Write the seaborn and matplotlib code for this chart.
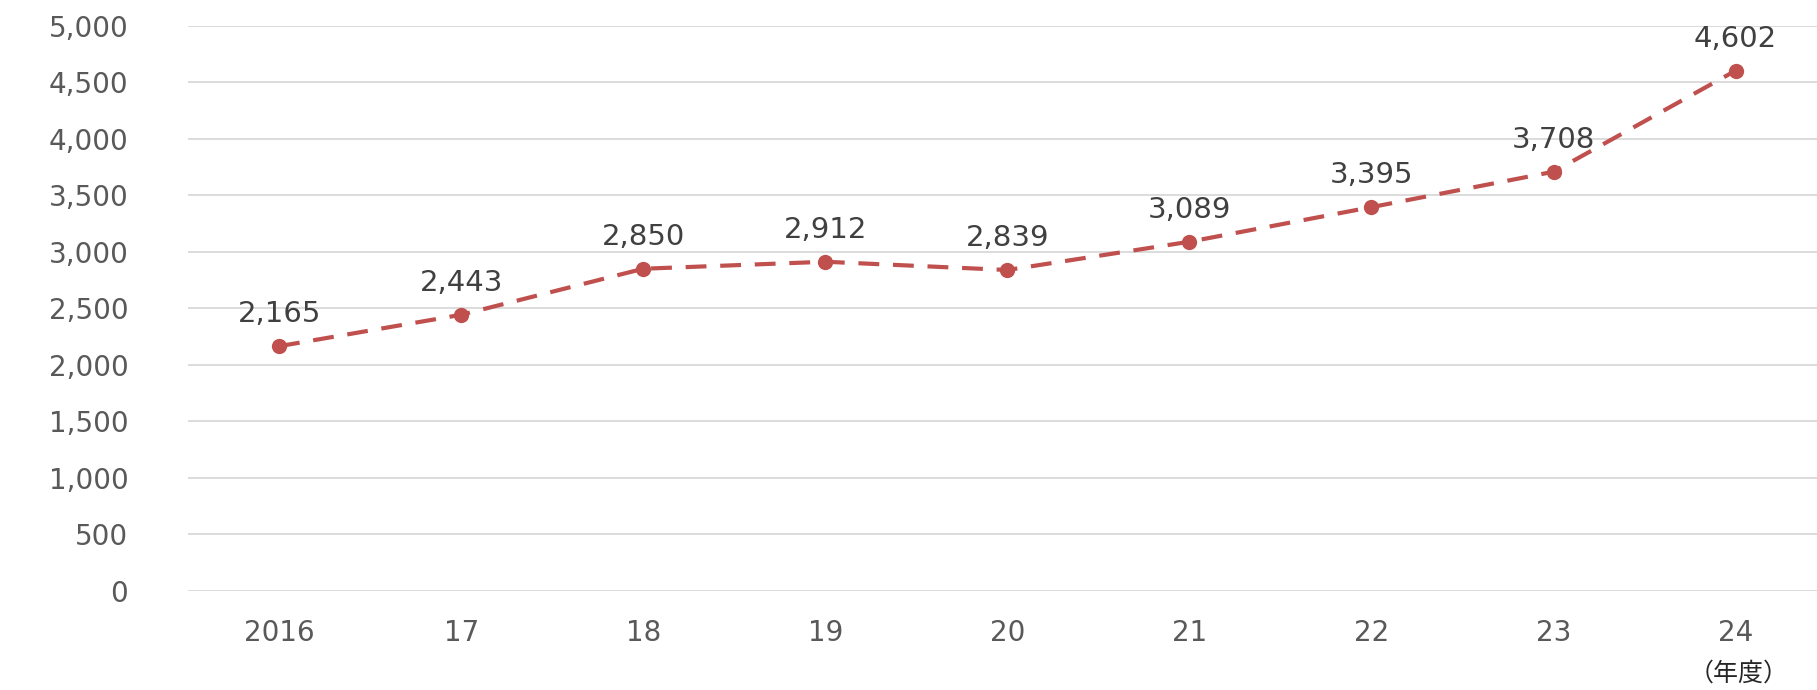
import matplotlib
matplotlib.use("Agg")
import matplotlib.pyplot as plt
import seaborn as sns
import pandas as pd

# data
years = ["2016", "17", "18", "19", "20", "21", "22", "23", "24"]
values = [2165, 2443, 2850, 2912, 2839, 3089, 3395, 3708, 4602]
y_ticks = [0, 500, 1000, 1500, 2000, 2500, 3000, 3500, 4000, 4500, 5000]
unit_label = "（年度）"

df = pd.DataFrame({"year": years, "value": values})

sns.set_theme(style="white")
plt.rcParams["font.family"] = ["DejaVu Sans", "Noto Sans CJK JP"]

line_color = "#C0504D"
fig = plt.figure(figsize=(18.17, 6.9), dpi=100)
ax = fig.add_axes([0.1035, 0.1435, 0.8965, 0.8193])

sns.lineplot(data=df, x="year", y="value", ax=ax, color=line_color,
             linewidth=3, linestyle=(0, (5, 3.3)), marker="o", markersize=11,
             markeredgewidth=0, sort=False)

for i, v in enumerate(values):
    ax.annotate(f"{v:,}", (i, v), xytext=(0, 23), textcoords="offset points",
                ha="center", va="center", fontsize=21, color="#404040")

ax.set_ylim(0, 5000)
ax.set_xlim(-0.5, 8.447)
ax.set_yticks(y_ticks)
ax.set_yticklabels([f"{t:,}" for t in y_ticks])
ax.yaxis.grid(True, color="#D9D9D9", linewidth=1.3)
ax.xaxis.grid(False)
for s in ax.spines.values():
    s.set_visible(False)
ax.tick_params(axis="y", length=0, pad=43, labelsize=20, labelcolor="#595959")
ax.tick_params(axis="x", length=0, pad=20, labelsize=20, labelcolor="#595959")
ax.set_xlabel("")
ax.set_ylabel("")

fig.text(0.957, 0.005, unit_label, ha="center", va="bottom", fontsize=18,
         color="#262626", family=["Noto Sans CJK JP", "DejaVu Sans"])

fig.savefig("out.png", dpi=100)
